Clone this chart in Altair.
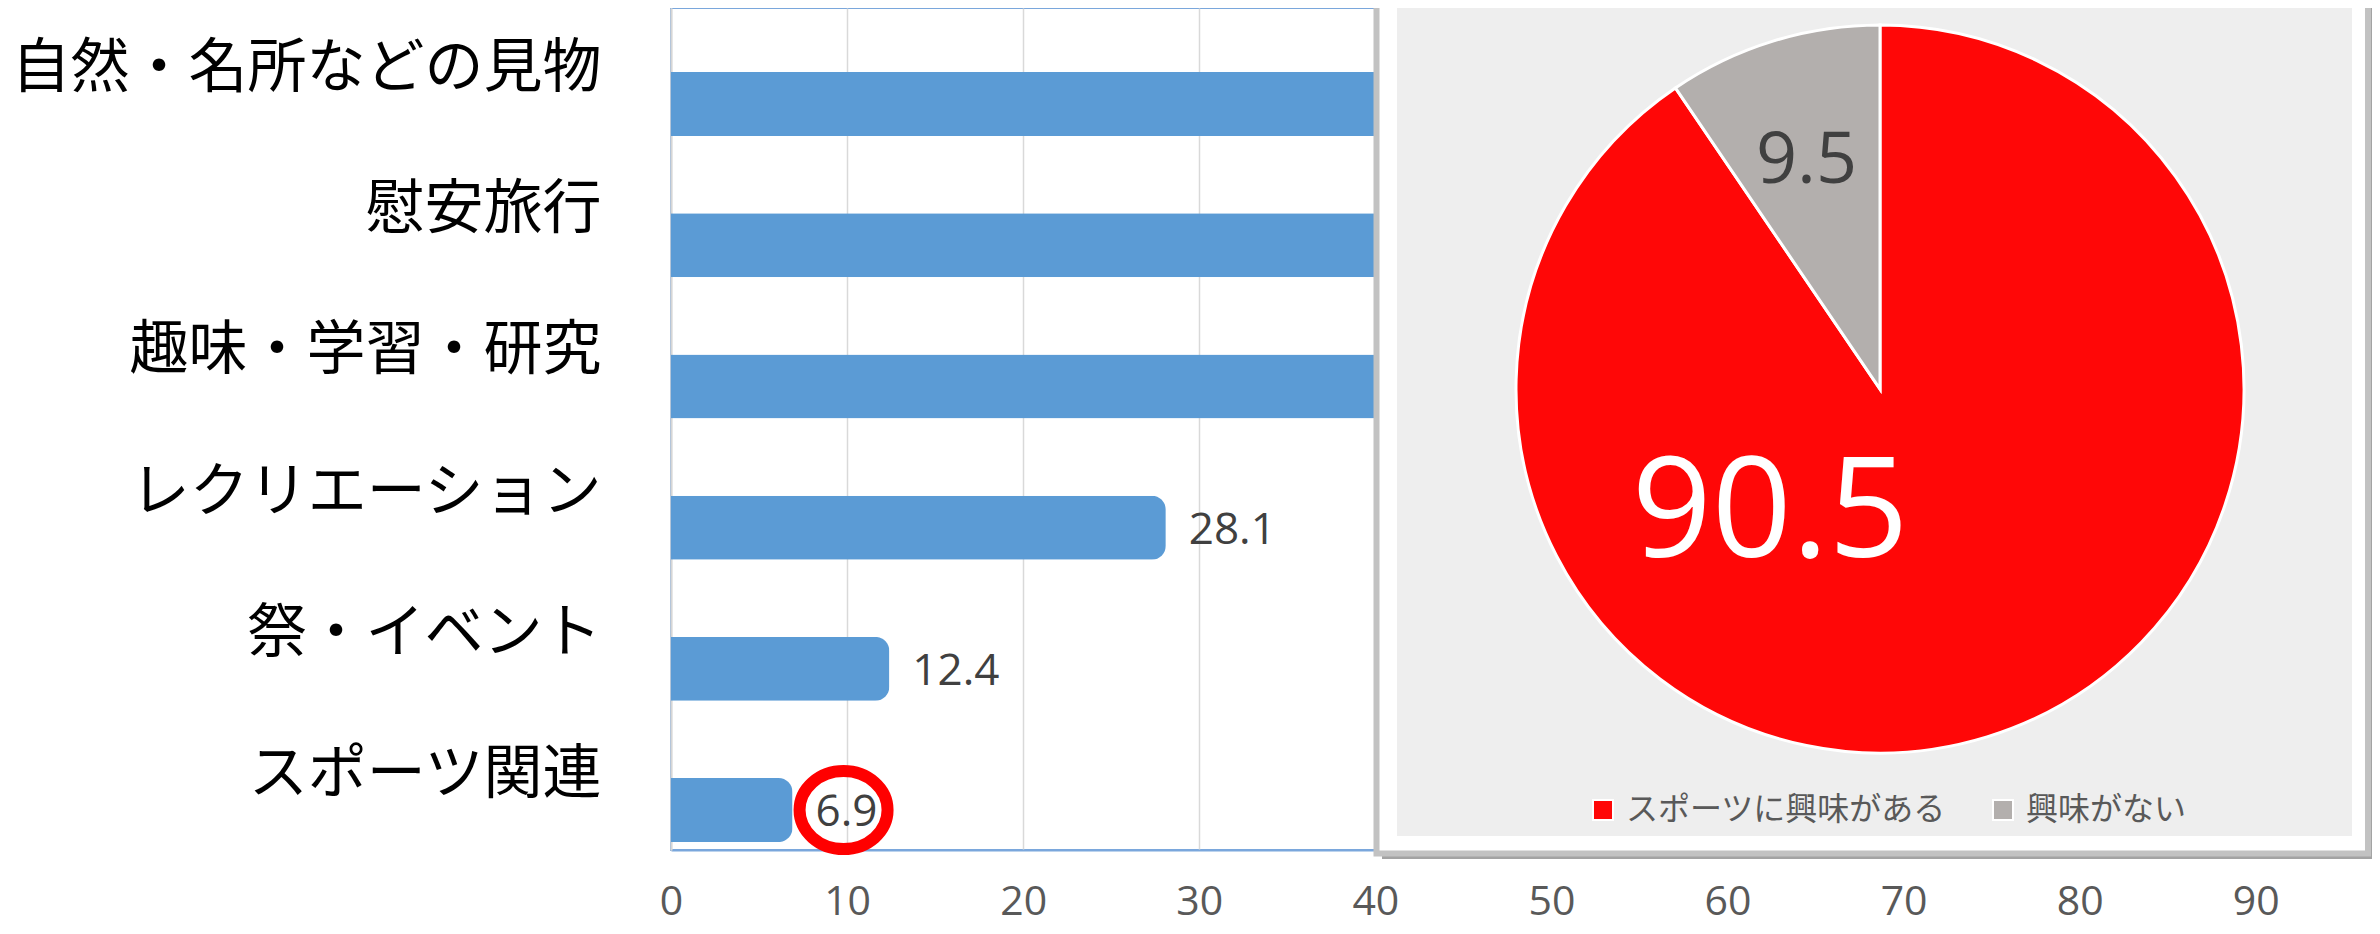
import altair as alt
import pandas as pd

# ---------------- data ----------------
categories = ["自然・名所などの見物", "慰安旅行", "趣味・学習・研究", "レクリエーション", "祭・イベント", "スポーツ関連"]
# top three bars run behind the inset (values estimated; only > 40 is visible)
values = [62.4, 51.3, 45.2, 28.1, 12.4, 6.9]
x_ticks = [0, 10, 20, 30, 40, 50, 60, 70, 80, 90]

pie_labels = ["スポーツに興味がある", "興味がない"]
pie_values = [90.5, 9.5]
pie_order = [0, 1]
pie_colors = ["#FF0707", "#B3AFAD"]

highlight = ["スポーツ関連"]

# ---------------- layout / style ----------------
PAD_LEFT, PAD_BOTTOM = 663, 76
W, H = 1701, 842
CJK = "Noto Sans CJK JP"
NUM = "Open Sans"
PIE_X, PIE_Y, PIE_R = 1209, 381, 364
INSET_LEFT_VALUE = 40  # value labels beyond this lie under the inset panel

bar_df = pd.DataFrame({"category": categories, "value": values})
pie_df = pd.DataFrame({"label": pie_labels, "value": pie_values, "ord": pie_order})
hl_df = bar_df[bar_df["category"].isin(highlight)].reset_index(drop=True)
one = pd.DataFrame({"k": [0]})

y_enc = alt.Y(
    "category:N",
    sort=categories,
    scale=alt.Scale(paddingInner=0.547, paddingOuter=0.255, align=0.89),
    axis=alt.Axis(
        title=None, ticks=False, labelFont=CJK, labelFontSize=59, labelColor="#000000",
        labelPadding=70, labelOffset=-35, labelLimit=800,
        domainColor="#d6d6d6", domainWidth=2,
    ),
)
x_enc = alt.X(
    "value:Q",
    scale=alt.Scale(domain=[0, 96.6], nice=False, zero=True),
    axis=alt.Axis(
        values=x_ticks, title=None, grid=True, gridColor="#d9d9d9", gridWidth=1.5,
        ticks=False, domainColor="#7aa7dc", domainWidth=2,
        labelFont=NUM, labelFontSize=41, labelColor="#595959", labelPadding=32,
        labelFlush=False,
    ),
)

bars = alt.Chart(bar_df).mark_bar(color="#5B9BD5", cornerRadiusEnd=14).encode(x=x_enc, y=y_enc)

bar_text = alt.Chart(bar_df).transform_filter(
    alt.datum.value < INSET_LEFT_VALUE
).mark_text(
    align="left", baseline="middle", dx=23, dy=3, font=NUM, fontSize=44, color="#404040"
).encode(x="value:Q", y=alt.Y("category:N", sort=categories), text=alt.Text("value:Q", format=".1f"))

ellipse = "M -1 0 A 1 0.886 0 1 0 1 0 A 1 0.886 0 1 0 -1 0 Z"
circle = alt.Chart(hl_df).transform_calculate(cx="datum.value + 2.9").mark_point(
    shape=ellipse, size=88 * 88, filled=False, color="#FF0000", strokeWidth=12, opacity=1
).encode(x="cx:Q", y=alt.Y("category:N", sort=categories))

# ---------------- inset panel ----------------
shadow = alt.Chart(one).mark_rect(color="#a3a3a3").encode(
    x=alt.value(711), x2=alt.value(1720), y=alt.value(-10), y2=alt.value(851)
)
frame = alt.Chart(one).mark_rect(fill="white", stroke="#c2c2c2", strokeWidth=6).encode(
    x=alt.value(705.5), x2=alt.value(1697), y=alt.value(-10), y2=alt.value(845.5)
)
panel = alt.Chart(one).mark_rect(color="#EEEEEE").encode(
    x=alt.value(726), x2=alt.value(1681), y=alt.value(-10), y2=alt.value(828)
)

pie = alt.Chart(pie_df).mark_arc(radius=PIE_R, stroke="white", strokeWidth=3).encode(
    theta=alt.Theta("value:Q", stack=True, scale=alt.Scale(domain=[0, 100])),
    color=alt.Color(
        "label:N",
        scale=alt.Scale(domain=pie_labels, range=pie_colors),
        legend=alt.Legend(
            title=None, orient="none", legendX=916, legendY=786, direction="horizontal",
            symbolType="square", symbolSize=400, symbolStrokeColor="white", symbolStrokeWidth=2,
            symbolOpacity=1, labelFont=CJK, labelFontSize=32, labelColor="#595959",
            labelOffset=7, labelLimit=600, columnPadding=40,
        ),
    ),
    order=alt.Order("ord:Q"),
    x=alt.value(PIE_X),
    y=alt.value(PIE_Y),
)

pie_base = alt.Chart(pie_df).transform_window(
    cum="sum(value)", sort=[alt.SortField("ord")], frame=[None, 0]
).transform_calculate(mid="datum.cum - datum.value / 2")

lab_small = pie_base.transform_filter(alt.datum.label == pie_labels[1]).mark_text(
    align="center", baseline="middle", font=NUM, fontSize=72, color="#404040", dx=-2, dy=4
).encode(
    theta=alt.Theta("mid:Q", stack=None, scale=alt.Scale(domain=[0, 100])),
    radius=alt.value(243),
    text=alt.Text("value:Q", format=".1f"),
    x=alt.value(PIE_X),
    y=alt.value(PIE_Y),
)
lab_big = pie_base.transform_filter(alt.datum.label == pie_labels[0]).mark_text(
    align="center", baseline="middle", font=NUM, fontSize=140, color="white", dx=-146, dy=8
).encode(
    theta=alt.Theta("mid:Q", stack=None, scale=alt.Scale(domain=[0, 100])),
    radius=alt.value(123),
    text=alt.Text("value:Q", format=".1f"),
    x=alt.value(PIE_X),
    y=alt.value(PIE_Y),
)

chart = alt.layer(
    bars, bar_text, circle, shadow, frame, panel, pie, lab_small, lab_big
).properties(
    width=W, height=H,
    autosize=alt.AutoSizeParams(type="none"),
    padding={"left": PAD_LEFT, "top": 0, "right": 0, "bottom": PAD_BOTTOM},
    background="white",
).configure_view(stroke="#7aa7dc", strokeWidth=2)

chart.save("out.html", embed_options={"renderer": "svg", "actions": False})
